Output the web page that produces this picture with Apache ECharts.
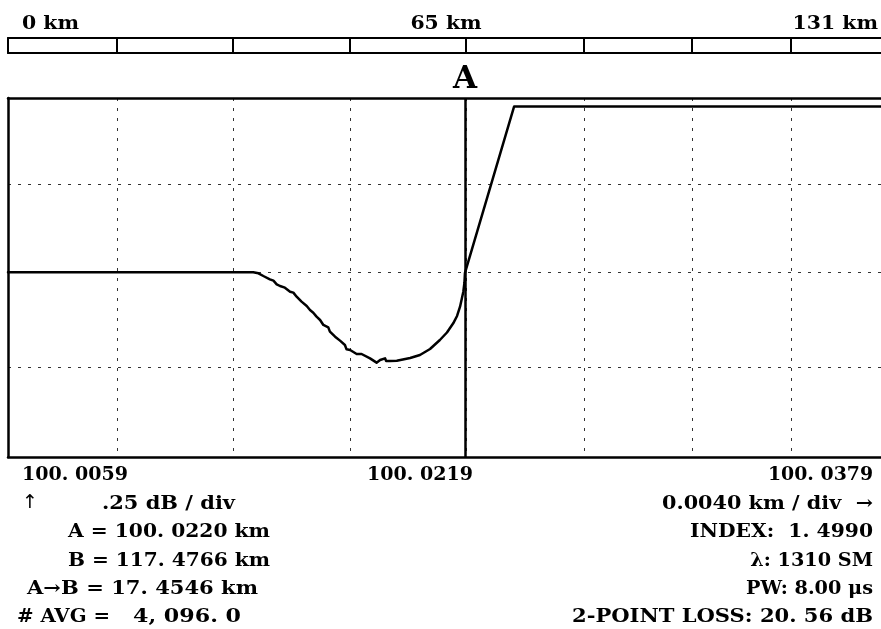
<!DOCTYPE html>
<html>
<head>
<meta charset="utf-8">
<style>
  html, body { margin: 0; padding: 0; background: #fff; }
  #chart { width: 881px; height: 629px; }
</style>
<script src="https://cdn.jsdelivr.net/npm/echarts@6/dist/echarts.min.js"></script>
</head>
<body>
<div id="chart"></div>
<script>
// ---- data ----
var distanceKm = [
  100.0059, 100.01489, 100.01508, 100.01526, 100.01550, 100.01563, 100.01575, 100.01587,
  100.01605, 100.01624, 100.01636, 100.01648, 100.01666, 100.01685, 100.01697, 100.01709,
  100.01721, 100.01734, 100.01746, 100.01764, 100.01770, 100.01789, 100.01807, 100.01825,
  100.01831, 100.01844, 100.01868, 100.01886, 100.01917, 100.01941, 100.01954, 100.01972,
  100.01976, 100.01990, 100.02015, 100.02064, 100.02100, 100.02137, 100.02173, 100.02199,
  100.02222, 100.02236, 100.02247, 100.02254, 100.02259, 100.02263, 100.02265, 100.02445,
  100.0379
];
var levelDb = [
  0.5145, 0.5144, 0.5116, 0.5042, 0.4949, 0.4912, 0.4810, 0.4763,
  0.4717, 0.4605, 0.4578, 0.4466, 0.4327, 0.4206, 0.4095, 0.4020,
  0.3909, 0.3816, 0.3677, 0.3612, 0.3491, 0.3352, 0.3241, 0.3120,
  0.2999, 0.2981, 0.2869, 0.2869, 0.2748, 0.2628, 0.2702, 0.2748,
  0.2674, 0.2674, 0.2682, 0.2758, 0.2841, 0.3008, 0.3259, 0.3468,
  0.3724, 0.3928, 0.4187, 0.4429, 0.4604, 0.4847, 0.5130, 0.9760,
  0.9760
];
var markerA = 100.02265;
var xMin = 100.0059, xMax = 100.0379;
var yMin = 0, yMax = 1.0;
var gridX = [100.00990, 100.01415, 100.01844, 100.02269, 100.02701, 100.03097, 100.03460];
var gridY = [0.2487, 0.5145, 0.7604];
var rulerMax = 131;
var rulerTicksKm = [16.36, 33.76, 51.32, 68.73, 86.43, 102.64, 117.50];
var rulerLabels = ['0 km', '65 km', '131 km'];
var xTickLabels = ['100. 0059', '100. 0219', '100. 0379'];
var leftInfo = ['.25 dB / div', 'A = 100. 0220 km', 'B = 117. 4766 km', 'A\u2192B = 17. 4546 km', '# AVG =', '4, 096. 0'];
var rightInfo = ['0.0040 km / div  \u2192', 'INDEX:  1. 4990', '\u03bb: 1310 SM', 'PW: 8.00 \u03bcs', '2-POINT LOSS: 20. 56 dB'];

var FONT = '"DejaVu Serif", "Liberation Serif", serif';
var FONT_MAIN = 'bold 18.5px ' + FONT;
var measureCtx = document.createElement('canvas').getContext('2d');

function textW(s, font) { measureCtx.font = font; return measureCtx.measureText(s).width; }

// text placed between left and right edges (horizontally scaled to fit)
function fitText(s, left, right, cy, font) {
  font = font || FONT_MAIN;
  var sx = (right - left) / textW(s, font);
  return { type: 'text', x: left, y: cy, scaleX: sx, silent: true,
           style: { text: s, x: 0, y: 0, textAlign: 'left', textVerticalAlign: 'middle', font: font, fill: '#000' } };
}
// text right-aligned at 'right' with a given horizontal scale
function rightText(s, right, cy, sx) {
  var w = textW(s, FONT_MAIN) * sx;
  return fitText(s, right - w, right, cy);
}

var rulerScale = (79 - 22) / textW(rulerLabels[0], FONT_MAIN);
function rulerText(s, anchorX, align) {
  var w = textW(s, FONT_MAIN) * rulerScale;
  var left = align === 'left' ? anchorX : (align === 'center' ? anchorX - w / 2 : anchorX - w);
  return fitText(s, left, left + w, 24);
}

var graphics = [
  rulerText(rulerLabels[0], 22, 'left'),
  rulerText(rulerLabels[1], 446, 'center'),
  rulerText(rulerLabels[2], 878, 'right'),
  fitText(xTickLabels[0], 22, 128, 475),
  fitText(xTickLabels[1], 367, 473, 475),
  fitText(xTickLabels[2], 768, 873, 475),
  { type: 'text', x: 22, y: 503, silent: true,
    style: { text: '\u2191', x: 0, y: 0, textAlign: 'left', textVerticalAlign: 'middle',
             font: '19px "DejaVu Sans", sans-serif', fill: '#000' } },
  fitText(leftInfo[0], 102, 235, 504),
  fitText(leftInfo[1], 68, 270, 532),
  fitText(leftInfo[2], 68, 270, 561),
  fitText(leftInfo[3], 27, 258, 589),
  fitText(leftInfo[4], 17, 110, 617),
  fitText(leftInfo[5], 133, 241, 617),
  fitText(rightInfo[0], 662, 873, 504),
  fitText(rightInfo[1], 690, 873, 532),
  rightText(rightInfo[2], 873, 561, 1.04),
  rightText(rightInfo[3], 873, 589, 1.04),
  fitText(rightInfo[4], 572, 873, 617)
];

var chart = echarts.init(document.getElementById('chart'), null, { renderer: 'canvas' });
var borderLine = { show: true, onZero: false, lineStyle: { color: '#000', width: 2.5 } };
var dotted = { show: true, lineStyle: { color: '#333', width: 1, type: [3, 7] } };

chart.setOption({
  animation: false,
  backgroundColor: '#fff',
  grid: [
    { left: 8, right: 0, top: 98, bottom: 172 },
    { left: 8, right: 0, top: 38, height: 15 }
  ],
  xAxis: [
    { type: 'value', gridIndex: 0, min: xMin, max: xMax, position: 'bottom',
      axisLine: borderLine, axisTick: { show: false, customValues: gridX },
      axisLabel: { show: false }, splitLine: dotted },
    { type: 'value', gridIndex: 0, min: xMin, max: xMax, position: 'top',
      axisLine: borderLine, axisTick: { show: false }, axisLabel: { show: false }, splitLine: { show: false } },
    { type: 'value', gridIndex: 1, min: 0, max: rulerMax, position: 'bottom',
      axisLine: { show: true, onZero: false, lineStyle: { color: '#000', width: 2 } },
      axisTick: { show: false, customValues: rulerTicksKm },
      axisLabel: { show: false },
      splitLine: { show: true, lineStyle: { color: '#000', width: 2 } } },
    { type: 'value', gridIndex: 1, min: 0, max: rulerMax, position: 'top',
      axisLine: { show: true, onZero: false, lineStyle: { color: '#000', width: 2 } },
      axisTick: { show: false }, axisLabel: { show: false }, splitLine: { show: false } }
  ],
  yAxis: [
    { type: 'value', gridIndex: 0, min: yMin, max: yMax,
      axisLine: borderLine, axisTick: { show: false, customValues: gridY },
      axisLabel: { show: false }, splitLine: dotted },
    { type: 'value', gridIndex: 1, min: 0, max: 1,
      axisLine: { show: true, onZero: false, lineStyle: { color: '#000', width: 2 } },
      axisTick: { show: false }, axisLabel: { show: false }, splitLine: { show: false } }
  ],
  series: [
    { type: 'line', xAxisIndex: 0, yAxisIndex: 0,
      data: distanceKm.map(function (d, i) { return [d, levelDb[i]]; }),
      showSymbol: false, symbol: 'none', smooth: false,
      lineStyle: { color: '#000', width: 2.5, join: 'round', cap: 'round' },
      markLine: {
        silent: true, symbol: ['none', 'none'], animation: false, precision: 6,
        lineStyle: { color: '#000', width: 2.5, type: 'solid' },
        label: { show: true, position: 'end', formatter: 'A', distance: 3,
                 fontFamily: FONT, fontWeight: 'bold', fontSize: 31, color: '#000' },
        data: [{ xAxis: markerA }]
      }
    }
  ],
  graphic: graphics
});
</script>
</body>
</html>
